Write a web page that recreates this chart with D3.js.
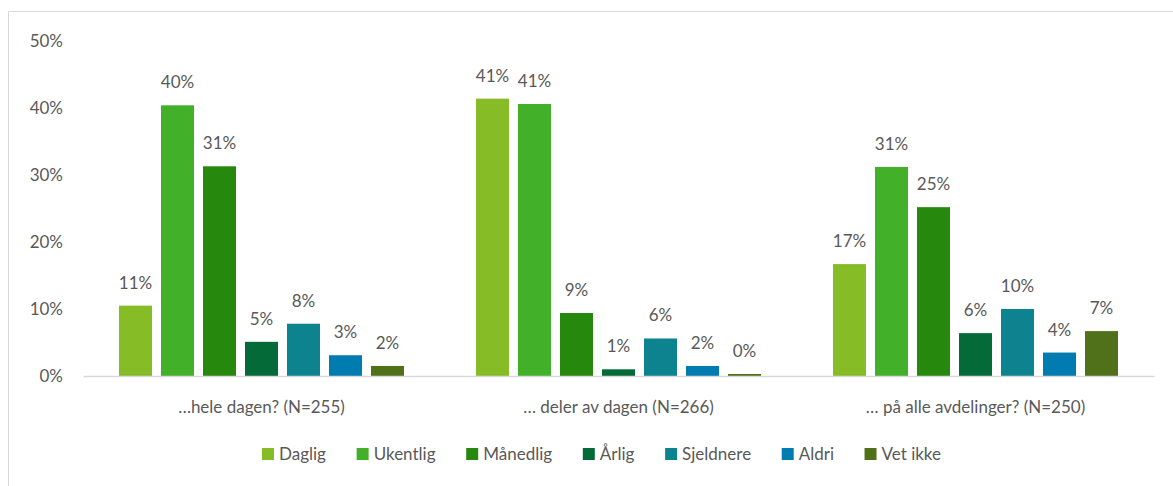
<!DOCTYPE html>
<html>
<head>
<meta charset="utf-8">
<script src="https://cdn.jsdelivr.net/npm/d3@7"></script>
<style>
    body { margin: 0; background: #fff; }
    text { font-family: Lato, sans-serif; fill: #595959; }
</style>
</head>
<body>
<svg id="chart" width="1173" height="486"></svg>
<script>
const categories = ['…hele dagen? (N=255)', '… deler av dagen (N=266)', '… på alle avdelinger? (N=250)']
const series = ['Daglig', 'Ukentlig', 'Månedlig', 'Årlig', 'Sjeldnere', 'Aldri', 'Vet ikke']
const colors = ['#86bc25', '#43b02a', '#26890d', '#046a38', '#0d8390', '#007cb0', '#507119']

const heleDagen = [0.105, 0.404, 0.313, 0.051, 0.078, 0.031, 0.015]
const delerAvDagen = [0.414, 0.406, 0.094, 0.010, 0.056, 0.015, 0.003]
const alleAvdelinger = [0.167, 0.312, 0.252, 0.064, 0.100, 0.035, 0.067]
const values = [heleDagen, delerAvDagen, alleAvdelinger]

const yTicks = [0, 0.1, 0.2, 0.3, 0.4, 0.5]

const fontSize = '17px'
const svg = d3.select('#chart')

// chart frame (only top and left edges show in the crop)
svg.append('line')
    .attr('x1', 8.5).attr('x2', 1173).attr('y1', 11.5).attr('y2', 11.5)
    .attr('stroke', '#d9d9d9')
svg.append('line')
    .attr('x1', 8.5).attr('x2', 8.5).attr('y1', 11.5).attr('y2', 486)
    .attr('stroke', '#d9d9d9')

const x0 = d3.scaleBand()
    .domain(categories)
    .range([83, 1154])

const x1 = d3.scaleBand()
    .domain(series)
    .range([0, x0.bandwidth()])
    .paddingInner(0.214)
    .paddingOuter(0.857)

const y = d3.scaleLinear()
    .domain([0, 0.5])
    .range([376, 41])

const fmt = d3.format('.0%')

// y axis labels
svg.append('g')
    .attr('transform', 'translate(63,0)')
    .call(d3.axisLeft(y).tickValues(yTicks).tickFormat(fmt).tickSize(0).tickPadding(0))
    .call(g => g.select('.domain').remove())
    .selectAll('text')
    .style('font-size', fontSize)
    .style('font-family', 'Lato, sans-serif')
    .attr('fill', '#595959')

// bars
const groups = svg.selectAll('.group')
    .data(categories)
    .enter().append('g')
    .attr('class', 'group')
    .attr('transform', (d) => `translate(${x0(d)},0)`)

groups.selectAll('rect')
    .data((d, i) => values[i].map((v, j) => ({ key: series[j], value: v, color: colors[j] })))
    .enter().append('rect')
    .attr('x', (d) => x1(d.key))
    .attr('width', x1.bandwidth())
    .attr('y', (d) => y(d.value))
    .attr('height', (d) => y(0) - y(d.value))
    .attr('fill', (d) => d.color)

groups.selectAll('.label')
    .data((d, i) => values[i].map((v, j) => ({ key: series[j], value: v })))
    .enter().append('text')
    .attr('class', 'label')
    .attr('x', (d) => x1(d.key) + x1.bandwidth() / 2)
    .attr('y', (d) => y(d.value) - 17)
    .attr('text-anchor', 'middle')
    .style('font-size', fontSize)
    .text((d) => fmt(d.value))

// x axis
svg.append('g')
    .attr('transform', `translate(0,${y(0)})`)
    .call(d3.axisBottom(x0).tickSize(0).tickPadding(0))
    .call(g => g.select('.domain').attr('stroke', '#d9d9d9').attr('stroke-width', 1.5))
    .selectAll('text')
    .attr('y', 37)
    .attr('dy', 0)
    .style('font-size', fontSize)
    .style('font-family', 'Lato, sans-serif')
    .attr('fill', '#595959')

// legend, spread over the same width as in the original
const legendLeft = 262
const legendRight = 941
const legend = svg.append('g').attr('class', 'legend')
const items = legend.selectAll('g')
    .data(series)
    .enter().append('g')

items.append('rect')
    .attr('width', 12).attr('height', 12)
    .attr('y', -6)
    .attr('fill', (d, i) => colors[i])

items.append('text')
    .attr('x', 17)
    .attr('dy', '0.35em')
    .style('font-size', fontSize)
    .text((d) => d)

const widths = []
items.each(function() { widths.push(this.getBBox().width) })
const gap = (legendRight - legendLeft - d3.sum(widths)) / (series.length - 1)

let offset = legendLeft
items.attr('transform', (d, i) => {
    const t = `translate(${offset},454)`
    offset += widths[i] + gap
    return t
})
</script>
</body>
</html>
